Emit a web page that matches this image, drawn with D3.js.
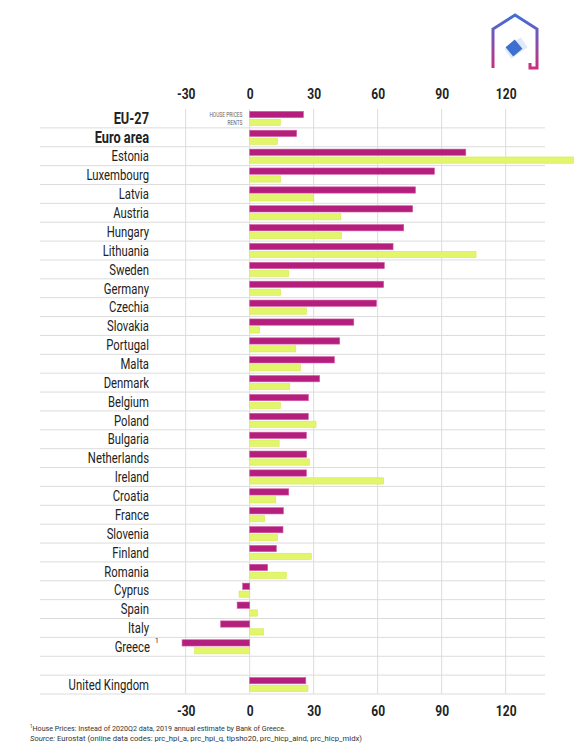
<!DOCTYPE html>
<html>
<head>
<meta charset="utf-8">
<script src="https://cdn.jsdelivr.net/npm/d3@7"></script>
<style>
    body { margin: 0; background: #fff; }
    text { font-family: Roboto, "Liberation Sans", sans-serif; }
</style>
</head>
<body>
<div id="chart"></div>
<script>
// % change, 2010 - 2020Q2
let countries = ["EU-27", "Euro area", "Estonia", "Luxembourg", "Latvia", "Austria", "Hungary", "Lithuania",
    "Sweden", "Germany", "Czechia", "Slovakia", "Portugal", "Malta", "Denmark", "Belgium", "Poland",
    "Bulgaria", "Netherlands", "Ireland", "Croatia", "France", "Slovenia", "Finland", "Romania",
    "Cyprus", "Spain", "Italy", "Greece", " ", "United Kingdom"];

let housePrices = [25.2, 22.0, 101.3, 86.6, 77.7, 76.4, 72.2, 67.2,
    63.1, 62.8, 59.4, 48.8, 42.2, 39.7, 32.8, 27.5, 27.5,
    26.6, 26.7, 26.6, 18.3, 15.8, 15.6, 12.5, 8.4,
    -3.3, -5.9, -13.6, -31.7, null, 26.3];

let rents = [14.4, 13.1, 155, 14.5, 30.0, 42.7, 43.0, 106.1,
    18.3, 14.5, 26.6, 4.7, 21.6, 23.8, 18.8, 14.4, 31.1,
    13.8, 28.0, 62.8, 12.2, 7.0, 13.1, 28.9, 17.2,
    -5.0, 3.6, 6.6, -25.8, null, 27.3];

let tickValues = [-30, 0, 30, 60, 90, 120];
let boldRows = ["EU-27", "Euro area"];

let footnotes = [
    {sup: "1", text: "House Prices: Instead of 2020Q2 data, 2019 annual estimate by Bank of Greece.", len: 256},
    {lead: "Source:", text: " Eurostat (online data codes: prc_hpi_a, prc_hpi_q, tipsho20, prc_hicp_aind, prc_hicp_midx)", len: 332}
];

let data = countries.map((c, i) => ({country: c, hp: housePrices[i], rent: rents[i]}));

let width = 574, height = 750;

// squeeze a text to look like a condensed face
function condense(sel, factor) {
    sel.each(function() {
        let len = this.getComputedTextLength();
        d3.select(this).attr("textLength", len * factor).attr("lengthAdjust", "spacingAndGlyphs");
    });
}

let svg = d3.select("#chart").append("svg")
    .attr("width", width)
    .attr("height", height);

// scales
let x = d3.scaleLinear()
    .domain([-30, 120])
    .range([185.7, 505.7]);

let y = d3.scaleBand()
    .domain(countries)
    .range([109, 694]);

let ySub = d3.scaleBand()
    .domain(["hp", "rent"])
    .range([0, y.bandwidth()])
    .paddingInner(0.2)
    .paddingOuter(0.3);

let gridLeft = 40, gridRight = 545;

// vertical grid
svg.append("g").selectAll("line")
    .data(tickValues)
    .enter().append("line")
    .attr("x1", d => x(d)).attr("x2", d => x(d))
    .attr("y1", y.range()[0]).attr("y2", y.range()[1])
    .attr("stroke", "#dcdcdc")
    .attr("stroke-width", 1);

// horizontal row separators
svg.append("g").selectAll("line")
    .data(countries)
    .enter().append("line")
    .attr("x1", gridLeft).attr("x2", gridRight)
    .attr("y1", d => y(d) + y.bandwidth()).attr("y2", d => y(d) + y.bandwidth())
    .attr("stroke", "#dcdcdc")
    .attr("stroke-width", 1);

// bars
let rows = svg.append("g").selectAll("g")
    .data(data.filter(d => d.hp !== null))
    .enter().append("g")
    .attr("transform", d => `translate(0, ${y(d.country)})`);

rows.append("rect")
    .attr("x", d => x(Math.min(0, d.hp)))
    .attr("width", d => Math.abs(x(d.hp) - x(0)))
    .attr("y", ySub("hp"))
    .attr("height", ySub.bandwidth())
    .attr("fill", "#b41f7e")
    .attr("stroke", "#d25aa3")
    .attr("stroke-width", 0.6);

rows.append("rect")
    .attr("x", d => x(Math.min(0, d.rent)))
    .attr("width", d => Math.abs(x(d.rent) - x(0)))
    .attr("y", ySub("rent"))
    .attr("height", ySub.bandwidth())
    .attr("fill", "#e2f56b")
    .attr("stroke", "#d4ea58")
    .attr("stroke-width", 0.6);

// country labels, squeezed horizontally to look like a condensed face
let labels = svg.append("g").selectAll("text")
    .data(countries.filter(c => c.trim() !== ""))
    .enter().append("text")
    .attr("transform", d => `translate(${d === "Greece" ? 150 : 149}, ${y(d) + y.bandwidth() / 2}) scale(${boldRows.includes(d) ? 0.8 : 0.78}, 1)`)
    .attr("dy", "0.36em")
    .attr("text-anchor", "end")
    .attr("fill", "#222")
    .style("font-size", d => boldRows.includes(d) ? "16px" : "14.5px")
    .style("font-weight", d => boldRows.includes(d) ? "bold" : "normal")
    .text(d => d);

// footnote marker on Greece
svg.append("text")
    .attr("x", 155)
    .attr("y", y("Greece") + 5.5)
    .attr("fill", "#222")
    .style("font-size", "6.5px")
    .text("1");

// small legend inside the first row
let legend = svg.append("g")
    .attr("fill", "#666")
    .style("font-size", "6.5px");

legend.append("text")
    .attr("x", 242.5)
    .attr("y", y("EU-27") + ySub("hp") + ySub.bandwidth() / 2)
    .attr("dy", "0.35em")
    .attr("text-anchor", "end")
    .text("HOUSE PRICES");

legend.append("text")
    .attr("x", 242.5)
    .attr("y", y("EU-27") + ySub("rent") + ySub.bandwidth() / 2)
    .attr("dy", "0.35em")
    .attr("text-anchor", "end")
    .text("RENTS");

condense(legend.selectAll("text"), 0.75);

// axes, top and bottom
let xAxisTop = d3.axisTop(x).tickValues(tickValues).tickSize(0).tickPadding(0).tickFormat(d => String(d));
let xAxisBottom = d3.axisBottom(x).tickValues(tickValues).tickSize(0).tickPadding(0).tickFormat(d => String(d));

svg.append("g")
    .attr("class", "x-axis")
    .attr("transform", "translate(0, 99)")
    .call(xAxisTop);

svg.append("g")
    .attr("class", "x-axis")
    .attr("transform", "translate(0, 705)")
    .call(xAxisBottom);

svg.selectAll(".x-axis .domain").remove();
let tickText = svg.selectAll(".x-axis text")
    .style("font-family", "Roboto, sans-serif")
    .style("font-size", "15px")
    .style("font-weight", "bold")
    .attr("fill", "#222");
condense(tickText, 0.8);

// footnotes
let fn = svg.append("g").attr("fill", "#333").style("font-size", "8px");

let f1 = fn.append("text").attr("x", 30).attr("y", 731);
f1.append("tspan").attr("dy", "-3").style("font-size", "5px").text(footnotes[0].sup);
f1.append("tspan").attr("dy", "3").text(footnotes[0].text);

let f2 = fn.append("text").attr("x", 30).attr("y", 741);
f2.append("tspan").style("font-style", "italic").text(footnotes[1].lead);
f2.append("tspan").text(footnotes[1].text);

[f1, f2].forEach((t, i) => {
    t.attr("textLength", footnotes[i].len).attr("lengthAdjust", "spacingAndGlyphs");
});

// logo top right
let defs = svg.append("defs");
let grad = defs.append("linearGradient")
    .attr("id", "logoGrad")
    .attr("x1", 0).attr("y1", 0).attr("x2", 0).attr("y2", 1);
grad.append("stop").attr("offset", "0%").attr("stop-color", "#3f6fd8");
grad.append("stop").attr("offset", "100%").attr("stop-color", "#c8307e");

let logo = svg.append("g").attr("transform", "translate(493, 14)");
logo.append("path")
    .attr("d", "M0,54 L0,15 L22,1 L44,15 L44,54 L37,54 L37,49")
    .attr("fill", "none")
    .attr("stroke", "url(#logoGrad)")
    .attr("stroke-width", 3)
    .attr("stroke-linejoin", "miter");
logo.append("rect")
    .attr("x", 13).attr("y", 28).attr("width", 20).attr("height", 12)
    .attr("transform", "rotate(-35, 23, 34)")
    .attr("fill", "#dfe9f8");
logo.append("rect")
    .attr("x", 15).attr("y", 28).attr("width", 12).attr("height", 12)
    .attr("transform", "rotate(-40, 21, 34)")
    .attr("fill", "#3d6fd0");
</script>
</body>
</html>
